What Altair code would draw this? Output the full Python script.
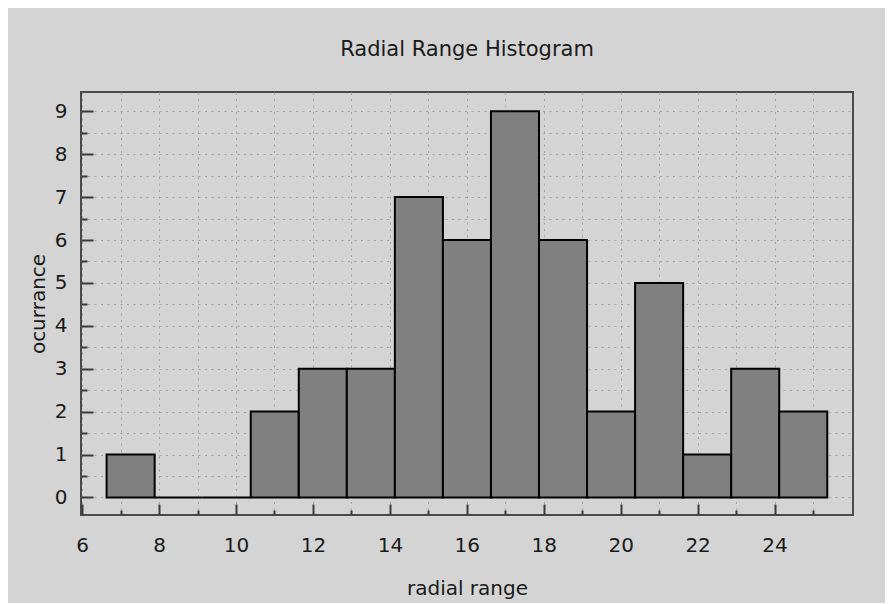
import altair as alt
import pandas as pd

# ---- values ----
bin_left = [6.636, 7.885, 9.134, 10.383, 11.632, 12.881, 14.130, 15.379,
            16.628, 17.877, 19.126, 20.375, 21.624, 22.873, 24.122]
bin_right = [7.885, 9.134, 10.383, 11.632, 12.881, 14.130, 15.379, 16.628,
             17.877, 19.126, 20.375, 21.624, 22.873, 24.122, 25.371]
counts = [1, 0, 0, 2, 3, 3, 7, 6, 9, 6, 2, 5, 1, 3, 2]

x_major = [6, 8, 10, 12, 14, 16, 18, 20, 22, 24]
x_minor = [7, 9, 11, 13, 15, 17, 19, 21, 23, 25]
y_major = [0, 1, 2, 3, 4, 5, 6, 7, 8, 9]
y_minor = [0.5, 1.5, 2.5, 3.5, 4.5, 5.5, 6.5, 7.5, 8.5]

x_domain = [5.97, 26.04]
y_domain = [-0.41, 9.45]

df = pd.DataFrame({"left": bin_left, "right": bin_right, "count": counts})

FONT = "DejaVu Sans"
TXT = "#1a1a1a"
TICK = "#3a3a3a"
GRID = "#a2a2a2"

xs = alt.Scale(domain=x_domain, nice=False, zero=False)
ys = alt.Scale(domain=y_domain, nice=False, zero=False)

line_axis = dict(
    domain=False,
    tickColor=TICK,
    tickWidth=2,
    grid=True,
    gridColor=GRID,
    gridDash=[2, 4.5],
    gridWidth=1,
)
text_axis = dict(
    labelFont=FONT,
    labelColor=TXT,
    labelFontSize=20,
    titleFont=FONT,
    titleColor=TXT,
    titleFontSize=20,
    titleFontWeight="normal",
)

bars = alt.Chart(df).mark_bar(
    color="#808080", stroke="#000000", strokeWidth=2, opacity=1
).encode(
    x=alt.X("left:Q", scale=xs,
            axis=alt.Axis(orient="bottom", values=x_major, tickSize=11, offset=-11,
                          labelPadding=20, title="radial range", titlePadding=23,
                          **line_axis, **text_axis)),
    x2="right:Q",
    y=alt.Y("count:Q", scale=ys,
            axis=alt.Axis(orient="left", values=y_major, tickSize=12, offset=-12,
                          labelPadding=14, title="ocurrance", titlePadding=6,
                          **line_axis, **text_axis)),
    y2=alt.datum(0),
)

minor = alt.Chart(df).mark_point(opacity=0).encode(
    x=alt.X("left:Q", scale=xs,
            axis=alt.Axis(orient="bottom", values=x_minor, tickSize=5, offset=-5,
                          labels=False, title=None, **line_axis)),
    y=alt.Y("count:Q", scale=ys,
            axis=alt.Axis(orient="left", values=y_minor, tickSize=6, offset=-6,
                          labels=False, title=None, **line_axis)),
)

chart = alt.layer(minor, bars).resolve_axis(
    x="independent", y="independent"
).properties(
    width=772,
    height=423,
    autosize=alt.AutoSizeParams(type="none"),
    padding={"left": 73, "top": 84, "right": 32, "bottom": 88},
    background="#d4d4d4",
    title=alt.TitleParams(
        "Radial Range Histogram", font=FONT, fontSize=21, fontWeight="normal",
        color=TXT, anchor="middle", offset=32,
    ),
).configure_view(
    stroke="#4a4a4a", strokeWidth=2, fill="#d4d4d4"
)

chart.save("out.html", embed_options={"renderer": "svg", "actions": False})
